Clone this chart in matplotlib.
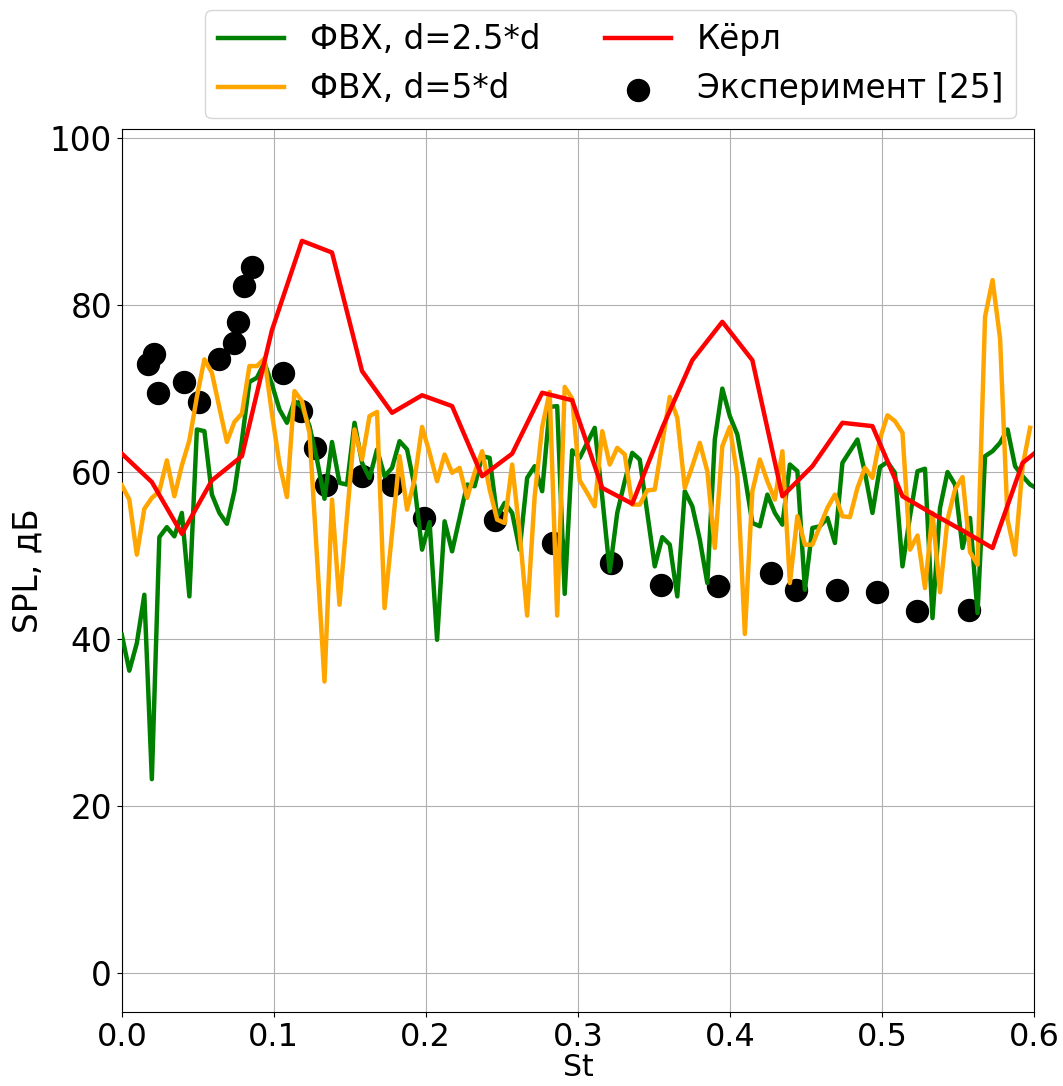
import numpy as np
import matplotlib
matplotlib.use("Agg")
import matplotlib.pyplot as plt

# ---- data ----
st_step = 0.0049375  # spacing of the FW-H spectra in St

spl_fwh_25 = [40.5, 36.2, 39.5, 45.3, 23.2, 52.2, 53.4, 52.3, 55.1, 45.1,
              65.1, 64.9, 57.3, 55.1, 53.8, 57.7, 63.8, 70.8, 71.3, 73.1,
              70.5, 67.5, 65.9, 68.5, 67.8, 65.5, 61.5, 56.8, 63.6, 58.7,
              58.5, 65.9, 61.1, 59.3, 62.7, 59.5, 60.5, 63.7, 62.7, 58.3,
              50.7, 54.0, 39.9, 54.1, 50.5, 54.5, 58.5, 58.3, 61.9, 61.7,
              54.7, 56.3, 55.1, 50.7, 59.3, 60.7, 57.7, 67.8, 67.9, 45.4,
              62.6, 61.7, 63.5, 65.3, 57.0, 48.1, 55.1, 58.9, 62.3, 61.5,
              55.1, 48.7, 52.2, 51.3, 45.1, 57.7, 55.9, 51.9, 46.7, 63.9,
              70.0, 66.7, 64.5, 59.5, 53.9, 53.5, 57.3, 55.1, 53.7, 60.9,
              60.1, 45.9, 53.3, 53.5, 54.5, 51.5, 61.1, 62.5, 63.9, 59.9,
              55.1, 60.6, 61.2, 59.9, 48.7, 54.7, 60.1, 60.4, 42.5, 55.7,
              60.0, 58.5, 50.9, 54.5, 43.1, 61.9, 62.5, 63.5, 65.1, 60.7,
              59.5, 58.5, 58.0]

spl_fwh_5 = [58.4, 56.7, 50.1, 55.6, 56.9, 57.7, 61.4, 57.1, 60.8, 63.8,
             69.0, 73.5, 71.9, 67.7, 63.6, 66.0, 67.0, 72.7, 72.7, 73.6,
             67.0, 61.0, 57.0, 69.7, 68.5, 64.7, 49.9, 34.9, 56.7, 44.1,
             54.7, 65.1, 61.5, 66.7, 67.2, 43.7, 52.7, 61.9, 55.5, 59.1,
             65.4, 62.3, 58.9, 62.1, 59.9, 60.5, 56.9, 59.9, 62.5, 57.9,
             54.3, 53.9, 60.9, 52.7, 42.8, 57.1, 65.4, 69.6, 42.8, 70.2,
             68.8, 59.0, 57.5, 55.9, 64.9, 60.9, 62.9, 62.1, 56.1, 56.1,
             57.8, 57.9, 63.5, 69.0, 66.5, 58.1, 60.7, 63.5, 60.1, 50.9,
             63.1, 65.4, 59.5, 40.6, 57.7, 61.5, 58.9, 56.7, 62.5, 46.7,
             54.7, 51.3, 51.3, 53.5, 55.7, 57.3, 54.7, 54.6, 58.1, 60.5,
             59.3, 64.0, 66.8, 66.1, 64.7, 50.7, 52.4, 46.1, 55.1, 45.6,
             54.3, 57.9, 59.4, 50.4, 48.9, 78.6, 83.0, 76.0, 54.3, 50.1,
             60.7, 65.3]

curle_step = 0.01975
spl_curle = [62.2, 58.8, 52.6, 59.0, 61.9, 77.0, 87.7, 86.3, 72.1, 67.1,
             69.2, 67.9, 59.5, 62.2, 69.5, 68.6, 58.1, 56.2, 65.3, 73.4,
             78.0, 73.4, 57.1, 60.7, 65.9, 65.5, 57.1, 55.0, 53.0, 50.9,
             61.1, 64.0]

st_exp = [0.0174, 0.0214, 0.0236, 0.0411, 0.0508, 0.0641, 0.0738, 0.0766,
          0.0804, 0.0859, 0.1063, 0.1179, 0.1271, 0.1341, 0.1578, 0.1776,
          0.1990, 0.2455, 0.2839, 0.3216, 0.3545, 0.3920, 0.4271, 0.4433,
          0.4703, 0.4966, 0.5230, 0.5574]
spl_exp = [73.0, 74.1, 69.5, 70.8, 68.4, 73.6, 75.5, 78.0, 82.3, 84.6,
           71.9, 67.3, 62.9, 58.5, 59.5, 58.4, 54.5, 54.3, 51.5, 49.1,
           46.5, 46.3, 47.9, 45.9, 45.9, 45.6, 43.4, 43.5]

labels = ["ФВХ, d=2.5*d", "ФВХ, d=5*d", "Кёрл", "Эксперимент [25]"]
x_ticks = [0.0, 0.1, 0.2, 0.3, 0.4, 0.5, 0.6]
y_ticks = [0, 20, 40, 60, 80, 100]

# ---- figure ----
plt.rcParams['font.family'] = ['DejaVu Sans']
fs = 23.5

fig = plt.figure(figsize=(10.63, 10.86), dpi=100)
ax = fig.add_axes([0.1146, 0.0681, 0.8581, 0.8131])

st_25 = st_step * np.arange(len(spl_fwh_25))
st_5 = st_step * np.arange(len(spl_fwh_5))
st_c = curle_step * np.arange(len(spl_curle))

l1, = ax.plot(st_25, spl_fwh_25, color='green', lw=3.2, zorder=3)
l2, = ax.plot(st_5, spl_fwh_5, color='orange', lw=3.2, zorder=3)
l3, = ax.plot(st_c, spl_curle, color='red', lw=3.2, zorder=3)
sc = ax.scatter(st_exp, spl_exp, s=250, color='black', zorder=2)

ax.set_xlim(0, 0.6)
ax.set_ylim(-4.7, 101.1)
ax.set_xticks(x_ticks)
ax.set_xticklabels([f"{v:.1f}" for v in x_ticks])
ax.set_yticks(y_ticks)
ax.tick_params(axis='y', labelsize=fs)
ax.tick_params(axis='x', labelsize=23)
ax.grid(True, color='#b0b0b0', lw=0.8)
ax.set_axisbelow(True)
ax.set_xlabel("St", fontsize=21.5, labelpad=0)
ax.set_ylabel("SPL, дБ", fontsize=fs)

ax.legend([l1, l2, l3, sc], labels, ncol=2, fontsize=fs,
          loc='lower center', bbox_to_anchor=(0.536, 1.012),
          borderaxespad=0)

fig.savefig("out.png", dpi=100)
